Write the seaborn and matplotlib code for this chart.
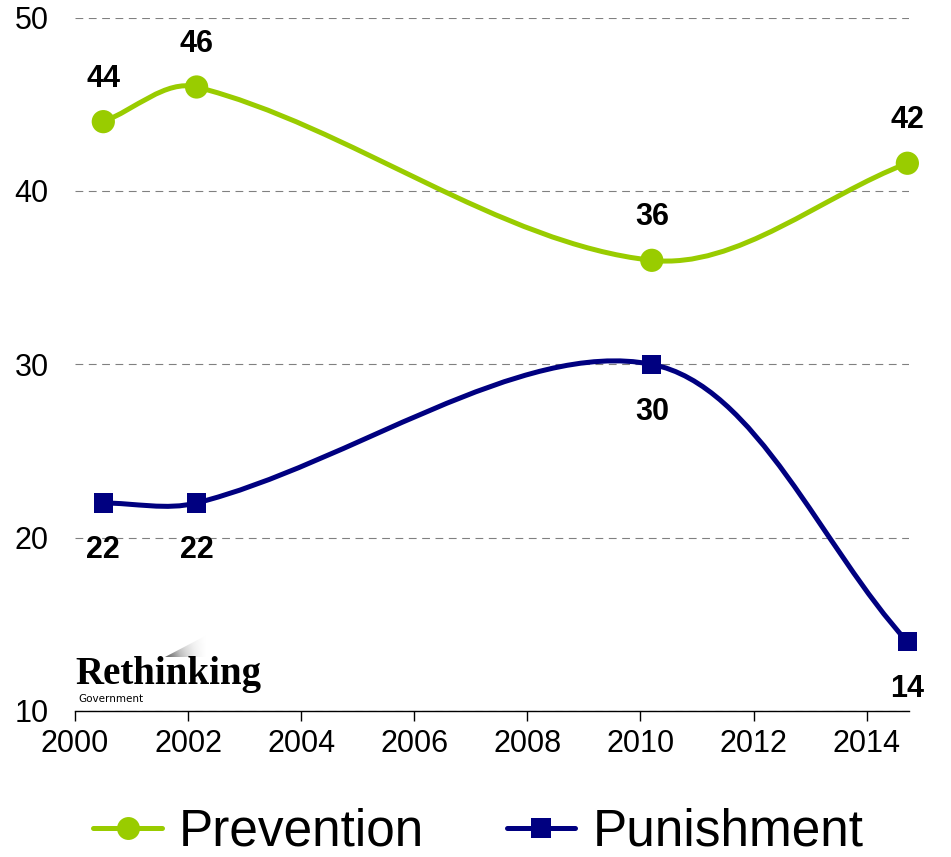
import numpy as np
import pandas as pd
import seaborn as sns
import matplotlib.pyplot as plt
from matplotlib.path import Path
from matplotlib.patches import PathPatch, Polygon
from matplotlib.lines import Line2D

# Data
years = [2000.5, 2002.15, 2010.2, 2014.72]
prevention = [44, 46, 36, 41.6]
punishment = [22, 22, 30, 14]
series_names = ["Prevention", "Punishment"]
colors = {"Prevention": "#99CC00", "Punishment": "#000080"}
markers = {"Prevention": "o", "Punishment": "s"}
xticks = list(range(2000, 2015, 2))
yticks = [10, 20, 30, 40, 50]

df = pd.DataFrame({
    "year": years * 2,
    "value": prevention + punishment,
    "series": ["Prevention"] * len(years) + ["Punishment"] * len(years),
})

sns.set_theme(style="white", rc={
    "text.color": "black", "xtick.color": "black", "ytick.color": "black",
    "axes.labelcolor": "black",
})
plt.rcParams["font.family"] = ["Liberation Sans", "DejaVu Sans"]

fig = plt.figure(figsize=(9.51, 8.57), dpi=100)
ax = fig.add_axes([0.0789, 0.1704, 0.877, 0.809])
ax.set_xlim(2000, 2014.75)
ax.set_ylim(10, 50)


def smooth_path(xs, ys):
    # Excel-like smoothed line: cubic bezier through the points, in screen space
    pts = ax.transData.transform(np.column_stack([xs, ys]))
    n = len(pts)
    verts = [pts[0]]
    codes = [Path.MOVETO]
    for i in range(n - 1):
        p0 = pts[i - 1] if i > 0 else pts[i]
        p1, p2 = pts[i], pts[i + 1]
        p3 = pts[i + 2] if i + 2 < n else pts[i + 1]
        d01 = np.hypot(*(p1 - p0))
        d12 = np.hypot(*(p2 - p1))
        d23 = np.hypot(*(p3 - p2))
        c1 = p1 + (p2 - p0) * d12 / (d01 + d12) / 3
        c2 = p2 - (p3 - p1) * d12 / (d12 + d23) / 3
        verts += [c1, c2, p2]
        codes += [Path.CURVE4] * 3
    verts = ax.transData.inverted().transform(np.array(verts))
    return Path(verts, codes)


# Smoothed lines
for name in series_names:
    sub = df[df["series"] == name]
    path = smooth_path(sub["year"].values, sub["value"].values)
    ax.add_patch(PathPatch(path, facecolor="none", edgecolor=colors[name],
                           lw=3.6, capstyle="round", joinstyle="round", zorder=2))

# Markers
sns.scatterplot(data=df, x="year", y="value", hue="series", style="series",
                size="series", palette=colors, markers=markers,
                sizes={"Prevention": 280, "Punishment": 190},
                linewidth=0, legend=False, ax=ax, zorder=3, clip_on=False)

# Data labels: prevention above, punishment below
for x, v in zip(years, prevention):
    ax.annotate(f"{round(v)}", (x, v), xytext=(0, 31), textcoords="offset points",
                ha="center", va="center", fontsize=22, fontweight="bold")
for x, v in zip(years, punishment):
    ax.annotate(f"{round(v)}", (x, v), xytext=(0, -34), textcoords="offset points",
                ha="center", va="center", fontsize=22, fontweight="bold")

ax.set_xlabel("")
ax.set_ylabel("")
ax.set_xticks(xticks)
ax.set_yticks(yticks)
ax.yaxis.grid(True, linestyle=(0, (7, 5)), color="#808080", lw=0.8)
ax.xaxis.grid(False)
for s in ["left", "top", "right"]:
    ax.spines[s].set_visible(False)
ax.spines["bottom"].set_color("black")
ax.spines["bottom"].set_linewidth(1.0)
ax.tick_params(axis="x", direction="out", length=7, width=1, labelsize=22, pad=6,
               bottom=True)
ax.tick_params(axis="y", length=0, labelsize=22, pad=19)

# Legend
handles = [Line2D([0], [0], color=colors[n], lw=3.6, marker=markers[n],
                  markersize=16.5 if n == "Prevention" else 14, markeredgewidth=0)
           for n in series_names]
fig.legend(handles, series_names, loc="center", bbox_to_anchor=(0.503, 0.029),
           ncol=2, frameon=False, fontsize=37, handlelength=1.34,
           handletextpad=0.33, columnspacing=1.6)

# "Rethinking Government" logo (pixel coordinates overlay)
lax = fig.add_axes([0, 0, 1, 1], zorder=5)
lax.set_xlim(0, 951)
lax.set_ylim(857, 0)
lax.axis("off")
tri = Polygon([[165, 657], [207, 635], [207, 657]], closed=True,
              facecolor="none", edgecolor="none")
lax.add_patch(tri)
gx, gy = np.meshgrid(np.linspace(0, 1, 60), np.linspace(0, 1, 40))
grad = 0.7 * (1 - gx) ** 1.3 * (0.6 + 0.4 * gy)
img = lax.imshow(grad, extent=[165, 207, 657, 635], cmap="Greys", vmin=0, vmax=1,
                 aspect="auto", interpolation="bilinear")
img.set_clip_path(tri)
lax.text(75, 684, "Rethinking", family="Liberation Serif", fontweight="bold",
         fontsize=28, va="baseline", ha="left", color="black")
lax.text(78, 702, "Government", family="DejaVu Sans", fontsize=7.5,
         va="baseline", ha="left", color="black")
lax.set_xlim(0, 951)
lax.set_ylim(857, 0)

fig.savefig("out.png", dpi=100)
